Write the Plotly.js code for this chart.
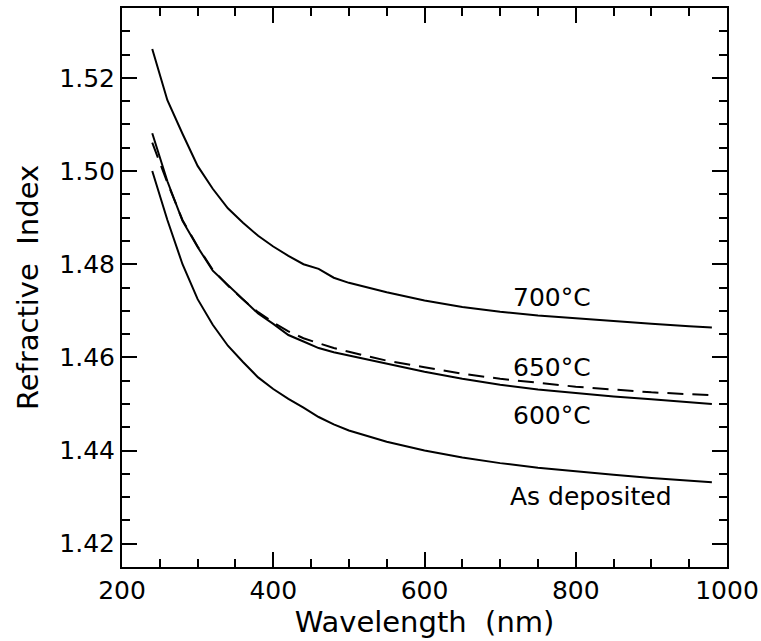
<!DOCTYPE html>
<html>
<head>
<meta charset="utf-8">
<script src="https://cdn.plot.ly/plotly-3.0.1.min.js"></script>
<style>html,body{margin:0;padding:0;background:#fff;}</style>
</head>
<body>
<div id="chart" style="width:761px;height:641px;"></div>
<script>
// Wavelength (nm)
var wavelength = [240, 260, 280, 300, 320, 340, 360, 380, 400, 420, 440, 460, 480, 500, 550, 600, 650, 700, 750, 800, 850, 900, 950, 980];
// Refractive index series
var n700 = [1.5262, 1.5152, 1.5080, 1.5011, 1.4962, 1.4920, 1.4889, 1.4861, 1.4838, 1.4818, 1.4800, 1.4790, 1.4771, 1.4760, 1.4740, 1.4722, 1.4708, 1.4698, 1.4690, 1.4684, 1.4677, 1.4672, 1.4667, 1.4664];
var n650 = [1.5061, 1.4975, 1.4895, 1.4838, 1.4788, 1.4754, 1.4724, 1.4697, 1.4675, 1.4656, 1.4641, 1.4630, 1.4620, 1.4612, 1.4593, 1.4579, 1.4565, 1.4554, 1.4545, 1.4537, 1.4531, 1.4525, 1.4521, 1.4519];
var n600 = [1.5081, 1.4978, 1.4893, 1.4837, 1.4786, 1.4755, 1.4724, 1.4694, 1.4672, 1.4648, 1.4634, 1.4620, 1.4611, 1.4604, 1.4586, 1.4569, 1.4554, 1.4541, 1.4531, 1.4523, 1.4516, 1.4510, 1.4504, 1.4500];
var nAsDep = [1.5000, 1.4895, 1.4800, 1.4725, 1.4670, 1.4625, 1.4590, 1.4557, 1.4532, 1.4511, 1.4492, 1.4472, 1.4456, 1.4443, 1.4419, 1.4400, 1.4385, 1.4373, 1.4363, 1.4355, 1.4348, 1.4341, 1.4336, 1.4332];
var labels = ["700°C", "650°C", "600°C", "As deposited"];
var labelX = [768, 768, 768, 820];
var labelY = [1.4729, 1.4579, 1.4476, 1.4301];

var lineStyle = {color: "#000", width: 2};
var traces = [
  {x: wavelength, y: n700, mode: "lines", line: lineStyle, name: labels[0]},
  {x: wavelength, y: n650, mode: "lines", line: {color: "#000", width: 2, dash: "16px,9px"}, name: labels[1]},
  {x: wavelength, y: n600, mode: "lines", line: lineStyle, name: labels[2]},
  {x: wavelength, y: nAsDep, mode: "lines", line: lineStyle, name: labels[3]}
];

var annotations = labels.map(function (t, i) {
  return {x: labelX[i], y: labelY[i], xref: "x", yref: "y", text: t, showarrow: false,
          font: {family: "DejaVu Sans", size: 25, color: "#000"}};
});

var axisCommon = {
  showline: true, linecolor: "#000", linewidth: 2, mirror: "ticks",
  ticks: "inside", ticklen: 15, tickwidth: 2, tickcolor: "#000",
  showgrid: false, zeroline: false,
  tickfont: {family: "DejaVu Sans", size: 25, color: "#000"}
};

var layout = {
  width: 761, height: 641,
  margin: {l: 122, r: 34, t: 8, b: 74},
  paper_bgcolor: "#fff", plot_bgcolor: "#fff",
  showlegend: false,
  font: {family: "DejaVu Sans", color: "#000"},
  xaxis: Object.assign({}, axisCommon, {
    range: [200, 1000], tick0: 200, dtick: 200,
    minor: {dtick: 50, ticks: "inside", ticklen: 8, tickwidth: 2, tickcolor: "#000", showgrid: false},
    title: {text: "Wavelength  (nm)", font: {family: "DejaVu Sans", size: 29, color: "#000"}, standoff: 8}
  }),
  yaxis: Object.assign({}, axisCommon, {
    range: [1.415, 1.535], tick0: 1.42, dtick: 0.02, tickformat: ".2f",
    minor: {dtick: 0.005, ticks: "inside", ticklen: 8, tickwidth: 2, tickcolor: "#000", showgrid: false},
    title: {text: "Refractive  Index", font: {family: "DejaVu Sans", size: 29, color: "#000"}, standoff: 12}
  }),
  annotations: annotations
};

Plotly.newPlot("chart", traces, layout, {displayModeBar: false, staticPlot: true});
</script>
</body>
</html>
